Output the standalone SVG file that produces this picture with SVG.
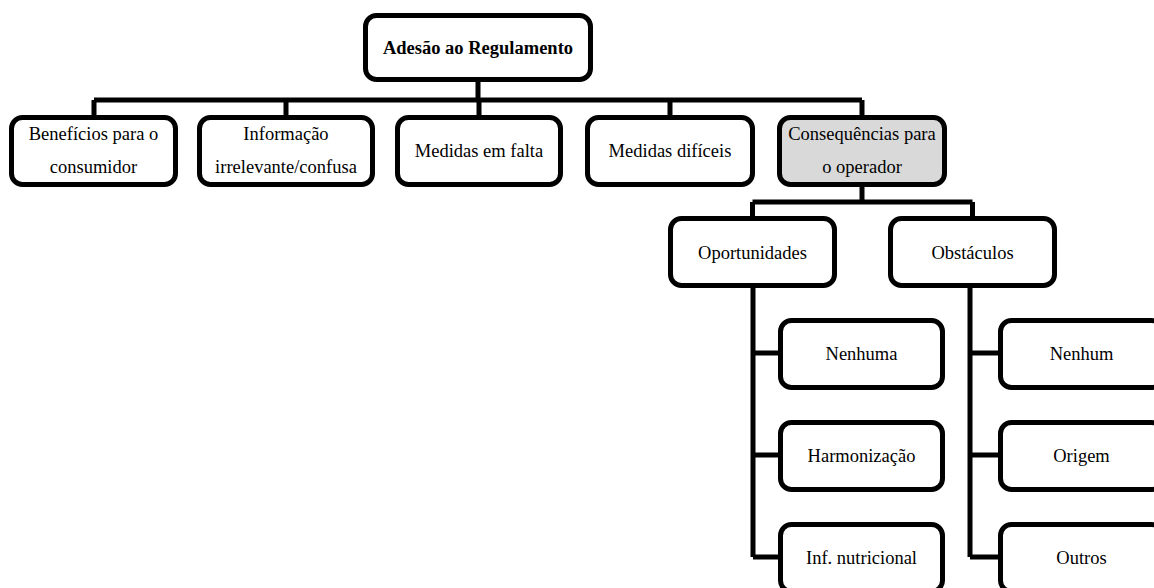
<svg xmlns="http://www.w3.org/2000/svg" width="1154" height="588" viewBox="0 0 1154 588">
<style>
.box{fill:#fff;stroke:#000;stroke-width:5}
.hl{fill:#d9d9d9}
.t{font-family:"Liberation Serif","Times New Roman",serif;font-size:18.5px;text-anchor:middle;fill:#000}
.b{font-weight:bold}
.c{fill:none;stroke:#000;stroke-width:5}
</style>
<rect width="1154" height="588" fill="#fff"/>
<g id="connectors">
<path class="c" d="M478 80V100M94 100H862M94 100V117M286 100V117M479 100V117M670 100V117M862 100V117"/>
<path class="c" d="M862 185V202M752.5 202H972.5M752.5 202V218M972.5 202V218"/>
<path class="c" d="M753 286V557M753 353H780M753 455H780M753 557H780"/>
<path class="c" d="M970 286V557M970 353H1000M970 455H1000M970 557H1000"/>
</g>
<g id="root"><rect class="box" x="365.5" y="15.5" width="225" height="64" rx="11"/><text class="t b" x="478" y="54">Adesão ao Regulamento</text></g>
<g id="beneficios"><rect class="box" x="11.5" y="117.5" width="164" height="67" rx="11"/><text class="t" x="93.5" y="139.5">Benefícios para o</text><text class="t" x="93.5" y="172.5">consumidor</text></g>
<g id="informacao"><rect class="box" x="199.5" y="117.5" width="173" height="67" rx="11"/><text class="t" x="286" y="139.5">Informação</text><text class="t" x="286" y="172.5">irrelevante/confusa</text></g>
<g id="medidas-falta"><rect class="box" x="397.5" y="117.5" width="163" height="67" rx="11"/><text class="t" x="479" y="156.5">Medidas em falta</text></g>
<g id="medidas-dificeis"><rect class="box" x="587.5" y="117.5" width="165" height="67" rx="11"/><text class="t" x="670" y="156.5">Medidas difíceis</text></g>
<g id="consequencias"><rect class="box hl" x="779.5" y="117.5" width="165" height="67" rx="11"/><text class="t" x="862" y="139.5">Consequências para</text><text class="t" x="862" y="172.5">o operador</text></g>
<g id="oportunidades"><rect class="box" x="670.5" y="218.5" width="164" height="67" rx="11"/><text class="t" x="752.5" y="258.5">Oportunidades</text></g>
<g id="obstaculos"><rect class="box" x="890.5" y="218.5" width="164" height="67" rx="11"/><text class="t" x="972.5" y="258.5">Obstáculos</text></g>
<g id="nenhuma"><rect class="box" x="780.5" y="320.5" width="162" height="67" rx="11"/><text class="t" x="861.5" y="360">Nenhuma</text></g>
<g id="harmonizacao"><rect class="box" x="780.5" y="422.5" width="162" height="67" rx="11"/><text class="t" x="861.5" y="462">Harmonização</text></g>
<g id="inf-nutricional"><rect class="box" x="780.5" y="524.5" width="162" height="67" rx="11"/><text class="t" x="861.5" y="564">Inf. nutricional</text></g>
<g id="nenhum"><rect class="box" x="1000.5" y="320.5" width="162" height="67" rx="11"/><text class="t" x="1081.5" y="360">Nenhum</text></g>
<g id="origem"><rect class="box" x="1000.5" y="422.5" width="162" height="67" rx="11"/><text class="t" x="1081.5" y="462">Origem</text></g>
<g id="outros"><rect class="box" x="1000.5" y="524.5" width="162" height="67" rx="11"/><text class="t" x="1081.5" y="564">Outros</text></g>
</svg>
